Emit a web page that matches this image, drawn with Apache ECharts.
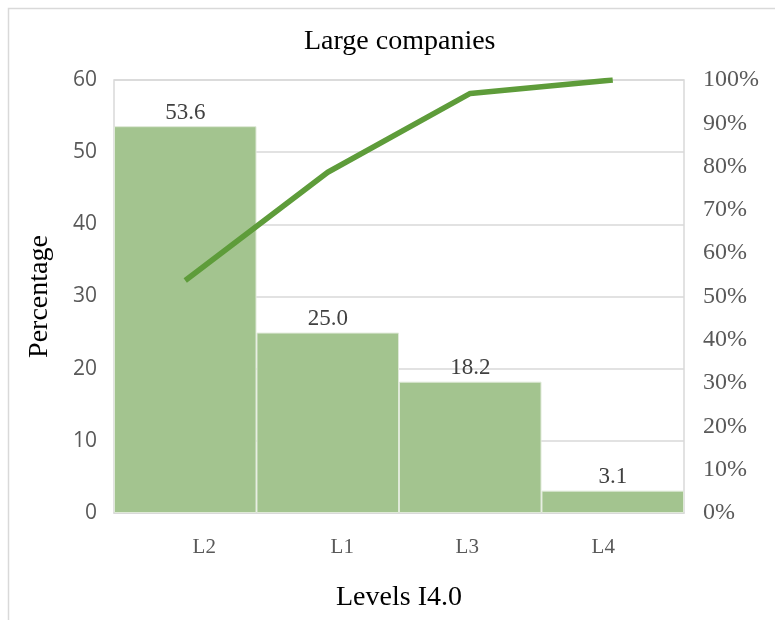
<!DOCTYPE html>
<html>
<head>
<meta charset="utf-8">
<script src="https://cdn.jsdelivr.net/npm/echarts@6/dist/echarts.min.js"></script>
<style>
  html, body { margin: 0; padding: 0; background: #fff; }
  #chart { width: 775px; height: 620px; }
</style>
</head>
<body>
<div id="chart"></div>
<script>
// Levels of Industry 4.0 adoption in large companies (Pareto chart)
const categories = ['L2', 'L1', 'L3', 'L4'];
const shares = [53.6, 25.0, 18.2, 3.1];          // bar values, percentage of companies
const cumulativeShare = [53.7, 78.7, 96.9, 100];   // cumulative percentage line
const leftTicks = [0, 60, 10];                     // min, max, interval
const rightTicks = [0, 100, 10];

// horizontal nudge (px) of each category label relative to its band centre
const labelNudge = [19, 14.5, -3, -9.5];

const serif = '"Liberation Serif", "Times New Roman", serif';
const sans = '"Open Sans", "Liberation Sans", sans-serif';

const labelRich = {};
labelNudge.forEach((d, i) => {
  labelRich['c' + i] = {
    fontFamily: serif, fontSize: 21, color: '#595959',
    padding: d >= 0 ? [0, 0, 0, 2 * d] : [0, -2 * d, 0, 0]
  };
});

const chart = echarts.init(document.getElementById('chart'), null, { renderer: 'canvas' });

chart.setOption({
  backgroundColor: '#ffffff',
  animation: false,
  graphic: [{
    type: 'rect',
    shape: { x: 8.5, y: 8.5, width: 800, height: 700 },
    style: { fill: 'none', stroke: '#d9d9d9', lineWidth: 1.5 },
    silent: true
  }],
  title: {
    text: 'Large companies',
    left: 299,
    top: 23,
    textStyle: { fontFamily: serif, fontSize: 28, fontWeight: 'normal', color: '#000' }
  },
  grid: {
    left: 114, right: 91, top: 80, bottom: 107,
    show: true, borderColor: '#d9d9d9', borderWidth: 1.5, containLabel: false
  },
  xAxis: {
    type: 'category',
    data: categories,
    name: 'Levels I4.0',
    nameLocation: 'middle',
    nameGap: 71,
    nameTextStyle: { fontFamily: serif, fontSize: 28, color: '#000' },
    axisLine: { show: true, lineStyle: { color: '#d9d9d9', width: 1.5 } },
    axisTick: { show: false },
    axisLabel: {
      margin: 24,
      formatter: (v, i) => '{c' + i + '|' + v + '}',
      rich: labelRich
    }
  },
  yAxis: [{
    type: 'value',
    min: leftTicks[0], max: leftTicks[1], interval: leftTicks[2],
    name: 'Percentage',
    nameLocation: 'middle',
    nameGap: 60,
    nameRotate: 90,
    nameTextStyle: { fontFamily: serif, fontSize: 28, color: '#000' },
    axisLine: { show: false },
    axisTick: { show: false },
    splitLine: { lineStyle: { color: '#d9d9d9', width: 1.5 } },
    axisLabel: { fontFamily: sans, fontSize: 21, color: '#595959', margin: 17 }
  }, {
    type: 'value',
    min: rightTicks[0], max: rightTicks[1], interval: rightTicks[2],
    position: 'right',
    axisLine: { show: false },
    axisTick: { show: false },
    splitLine: { show: false },
    axisLabel: { fontFamily: serif, fontSize: 24, color: '#595959', margin: 19, formatter: '{value}%' }
  }],
  series: [{
    type: 'bar',
    data: shares,
    yAxisIndex: 0,
    barCategoryGap: '0%',
    itemStyle: { color: '#a3c48f', borderColor: '#dfe9d8', borderWidth: 1 },
    label: {
      show: true, position: 'top', distance: 2,
      formatter: (p) => p.value.toFixed(1),
      fontFamily: serif, fontSize: 23, color: '#404040'
    }
  }, {
    type: 'line',
    data: cumulativeShare,
    yAxisIndex: 1,
    symbol: 'none',
    lineStyle: { color: '#5e9c3a', width: 5.5 },
    z: 5
  }]
});
</script>
</body>
</html>
